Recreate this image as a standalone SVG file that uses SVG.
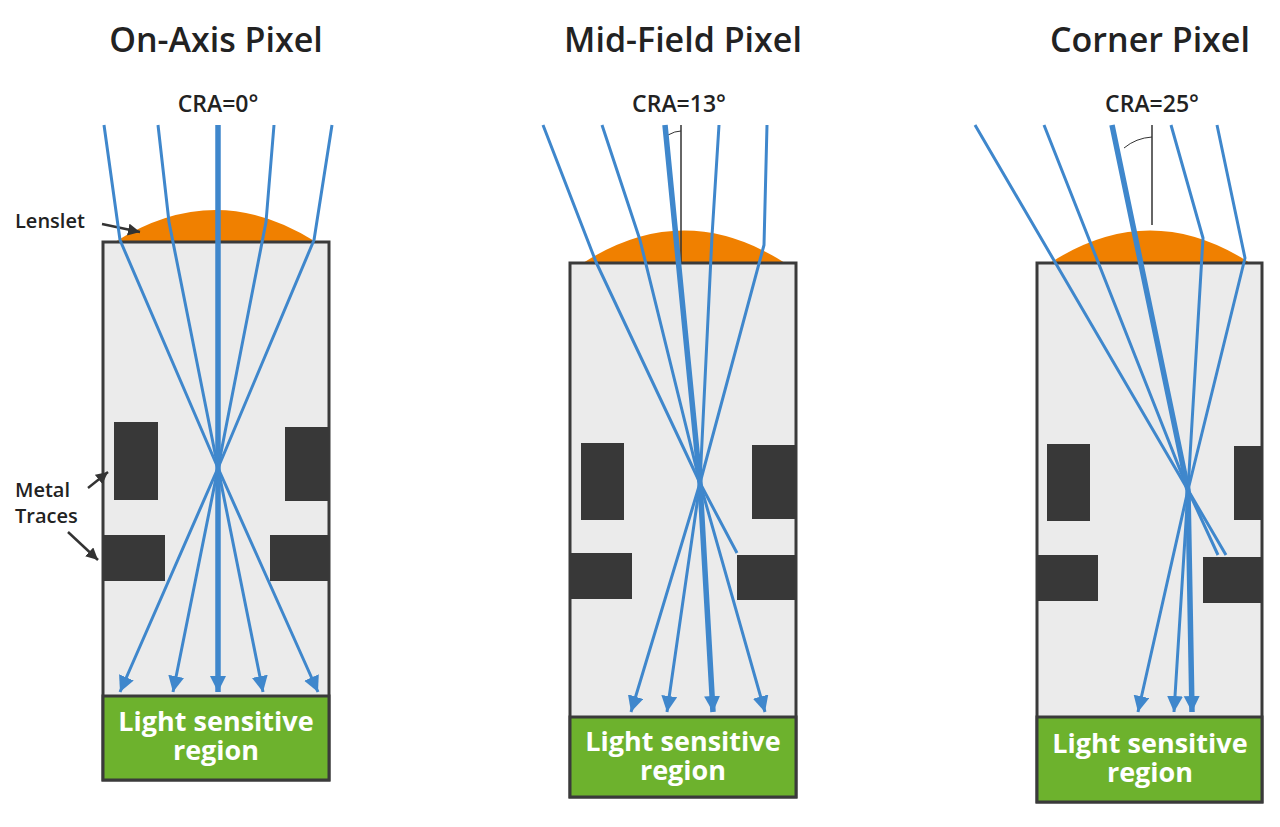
<svg xmlns="http://www.w3.org/2000/svg" width="1280" height="827" viewBox="0 0 1280 827">
<style>
.title{font-family:"Open Sans","Noto Sans",sans-serif;font-weight:600;font-size:34px;fill:#222;text-anchor:middle}
.cra{font-family:"Open Sans","Noto Sans",sans-serif;font-weight:600;font-size:23px;fill:#222;text-anchor:middle}
.lbl{font-family:"Open Sans","Noto Sans",sans-serif;font-weight:600;font-size:20px;fill:#222}
.reg{font-family:"Open Sans","Noto Sans",sans-serif;font-weight:700;font-size:27px;fill:#fff;text-anchor:middle}
.box{fill:#ebebeb;stroke:#3a3a3a;stroke-width:3}
.green{fill:#6db22d;stroke:#3a3a3a;stroke-width:3}
.lens{fill:#f08000}
.metal{fill:#383838}
.ray{fill:none;stroke:#3f87cc;stroke-width:3;stroke-linejoin:round}
.thick{stroke-width:5.5}
.arr{marker-end:url(#ah)}
.ptr{stroke:#333;stroke-width:2.5;fill:none;marker-end:url(#ph)}
</style>
<defs>
<marker id="ah" markerUnits="userSpaceOnUse" markerWidth="20" markerHeight="20" refX="16" refY="8" orient="auto"><path d="M0,0 L16,8 L0,16 z" fill="#3f87cc"/></marker>
<marker id="ph" markerUnits="userSpaceOnUse" markerWidth="14" markerHeight="14" refX="12" refY="6" orient="auto"><path d="M0,0 L12,6 L0,12 z" fill="#333"/></marker>
</defs>
<rect width="1280" height="827" fill="#fff"/>

<g id="panel1">
<text class="title" x="216" y="52">On-Axis Pixel</text>
<text class="cra" x="218" y="112">CRA=0°</text>
<path class="lens" d="M115,242 Q216,178 316,242 Z"/>
<rect class="box" x="103" y="242" width="226" height="538"/>
<rect class="green" x="103" y="696" width="226" height="84"/>
<text class="reg" x="216" y="731">Light sensitive</text>
<text class="reg" x="216" y="760">region</text>
<rect class="metal" x="114" y="422" width="44" height="78"/>
<rect class="metal" x="285" y="427" width="44" height="74"/>
<rect class="metal" x="103" y="535" width="62" height="46"/>
<rect class="metal" x="270" y="535" width="59" height="46"/>
</g>

<g id="panel2">
<text class="title" x="683" y="52">Mid-Field Pixel</text>
<text class="cra" x="679" y="112">CRA=13°</text>
<path class="lens" d="M583,263 Q684,198 785,263 Z"/>
<rect class="box" x="570" y="263" width="226" height="534"/>
<rect class="green" x="570" y="717" width="226" height="80"/>
<text class="reg" x="683" y="751">Light sensitive</text>
<text class="reg" x="683" y="780">region</text>
<rect class="metal" x="581" y="443" width="43" height="77"/>
<rect class="metal" x="752" y="445" width="44" height="74"/>
<rect class="metal" x="570" y="553" width="62" height="46"/>
<rect class="metal" x="737" y="555" width="59" height="45"/>
<line x1="681" y1="125" x2="681" y2="262" stroke="#333" stroke-width="1.5"/>
<path d="M668,135 Q675,131 681,131" fill="none" stroke="#333" stroke-width="1"/>
</g>

<g id="panel3">
<text class="title" x="1150" y="52">Corner Pixel</text>
<text class="cra" x="1152" y="112">CRA=25°</text>
<path class="lens" d="M1050,263 Q1150,198 1250,263 Z"/>
<rect class="box" x="1037" y="263" width="225" height="539"/>
<rect class="green" x="1037" y="717" width="225" height="85"/>
<text class="reg" x="1150" y="753">Light sensitive</text>
<text class="reg" x="1150" y="782">region</text>
<rect class="metal" x="1047" y="444" width="43" height="77"/>
<rect class="metal" x="1234" y="446" width="28" height="74"/>
<rect class="metal" x="1037" y="555" width="61" height="46"/>
<rect class="metal" x="1203" y="557" width="59" height="46"/>
<line x1="1152" y1="125" x2="1152" y2="225" stroke="#333" stroke-width="1.5"/>
<path d="M1124,148 Q1136,138 1152,137" fill="none" stroke="#333" stroke-width="1"/>
</g>

<g id="labels">
<text class="lbl" x="15" y="228">Lenslet</text>
<text class="lbl" x="15" y="497">Metal</text>
<text class="lbl" x="15" y="523">Traces</text>
</g>

<g id="connectors">
<line class="ptr" x1="102" y1="224" x2="140" y2="232"/>
<line class="ptr" x1="88" y1="488" x2="108" y2="472"/>
<line class="ptr" x1="68" y1="532" x2="98" y2="560"/>

<polyline class="ray arr" points="104,125 120,240 218,468 318,692"/>
<polyline class="ray arr" points="158,125 169,222 218,468 263,692"/>
<polyline class="ray thick arr" points="218,125 218,692"/>
<polyline class="ray arr" points="274,125 266,222 218,468 173,692"/>
<polyline class="ray arr" points="332,125 314,240 218,468 120,692"/>

<polyline class="ray" points="543,125 596,262 700,483 737,553"/>
<polyline class="ray arr" points="602,125 640,240 700,483 765,712"/>
<polyline class="ray thick arr" points="665,125 700,483 713,712"/>
<polyline class="ray arr" points="719,125 712,236 700,483 667,712"/>
<polyline class="ray arr" points="767,125 764,245 700,483 631,712"/>

<polyline class="ray" points="975,125 1188,490 1226,555"/>
<polyline class="ray" points="1044,125 1188,490 1218,555"/>
<polyline class="ray thick arr" points="1112,125 1188,490 1192,712"/>
<polyline class="ray arr" points="1171,125 1203,238 1188,490 1174,712"/>
<polyline class="ray arr" points="1217,125 1245,258 1188,490 1138,712"/>
</g>
</svg>
